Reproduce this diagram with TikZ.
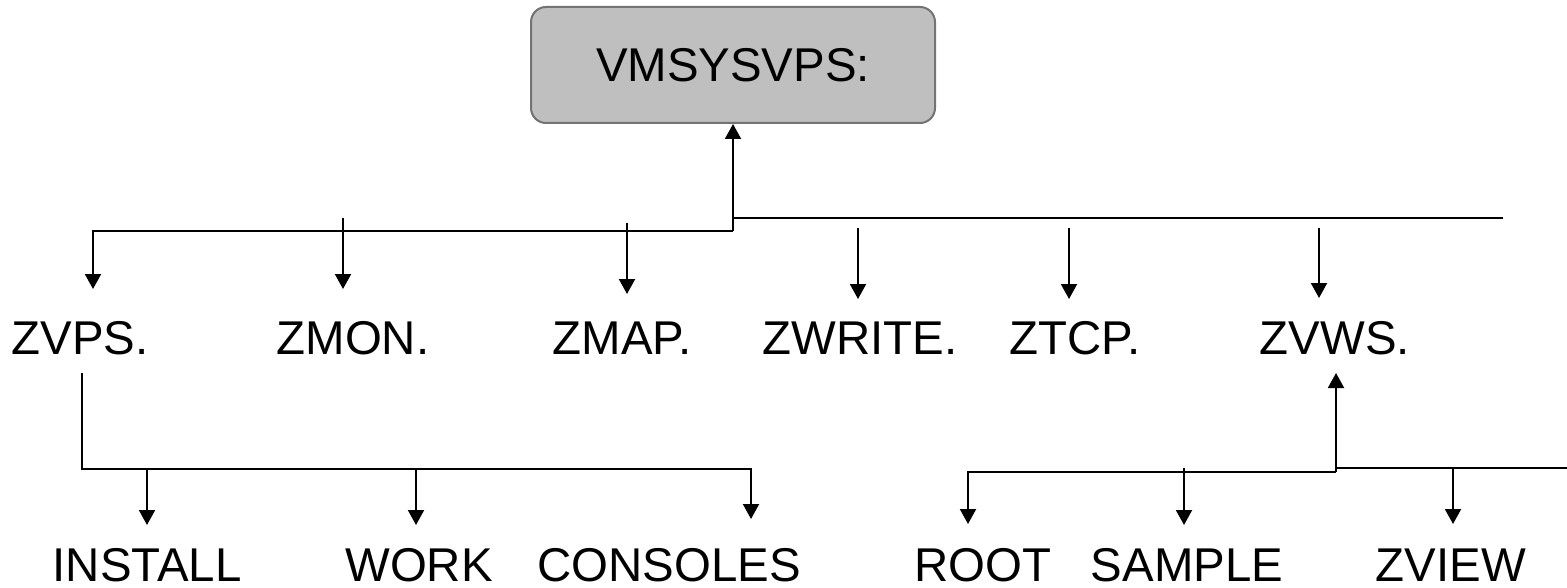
\documentclass[tikz,border=0pt]{standalone}
\usepackage{fontspec}
\setmainfont{Liberation Sans}
\usetikzlibrary{arrows.meta}
\begin{document}
\begin{tikzpicture}[x=0.5pt,y=-0.5pt,
  lbl/.style={anchor=base,inner sep=0pt,font=\fontsize{23.7}{28}\selectfont},
  conn/.style={line width=1pt,black},
  arr/.style={conn,-{Triangle[width=8pt,length=7.5pt]}},
  rootbox/.style={draw=black!55,line width=1pt,fill=black!25,rounded corners=7.5pt,
    minimum width=202pt,minimum height=58pt,inner sep=0pt,font=\fontsize{23.7}{28}\selectfont}]
\useasboundingbox (0,0) rectangle (1567,588);
% root
\node[rootbox] (box) at (733,65) {VMSYSVPS:};
% first level
\node[lbl] (zvps) at (80,354) {ZVPS.};
\node[lbl] (zmon) at (353,354) {ZMON.};
\node[lbl] (zmap) at (622,354) {ZMAP.};
\node[lbl] (zwrite) at (860,354) {ZWRITE.};
\node[lbl] (ztcp) at (1075,354) {ZTCP.};
\node[lbl] (zvws) at (1335,354) {ZVWS.};
% second level
\node[lbl] (install) at (147,581) {INSTALL};
\node[lbl] (work) at (419,581) {WORK};
\node[lbl] (consoles) at (669,581) {CONSOLES};
\node[lbl] (root) at (983,581) {ROOT};
\node[lbl] (sample) at (1187,581) {SAMPLE};
\node[lbl] (zview) at (1451,581) {ZVIEW};
% coordinates
\coordinate (j1) at (733,231);
\coordinate (t1) at (93,289);
\coordinate (r0) at (733,218);
\coordinate (r1) at (1503,218);
\coordinate (s2) at (343,218); \coordinate (t2) at (343,289);
\coordinate (s3) at (627,223); \coordinate (t3) at (627,294);
\coordinate (s4) at (858,228); \coordinate (t4) at (858,299);
\coordinate (s5) at (1069,228); \coordinate (t5) at (1069,299);
\coordinate (s6) at (1319,228); \coordinate (t6) at (1319,298);
\coordinate (z0) at (82,373);
\coordinate (z1) at (751,469);
\coordinate (tc) at (751,519);
\coordinate (si) at (147,469); \coordinate (ti) at (147,525);
\coordinate (sw) at (416,469); \coordinate (tw) at (416,525);
\coordinate (w0) at (1336,472);
\coordinate (wu) at (1336,373);
\coordinate (tr) at (968,524);
\coordinate (w1) at (1336,468);
\coordinate (w2) at (1567,468);
\coordinate (ss) at (1184,468); \coordinate (ts) at (1184,525);
\coordinate (sv) at (1453,468); \coordinate (tv) at (1453,524);
% top connectors
\draw[arr] (j1) -- (box.south);
\draw[arr] (j1) -| (t1);
\draw[conn] (r0) -- (r1);
\draw[arr] (s2) -- (t2);
\draw[arr] (s3) -- (t3);
\draw[arr] (s4) -- (t4);
\draw[arr] (s5) -- (t5);
\draw[arr] (s6) -- (t6);
% ZVPS branch
\draw[arr] (z0) |- (z1) -- (tc);
\draw[arr] (si) -- (ti);
\draw[arr] (sw) -- (tw);
% ZVWS branch
\draw[arr] (w0) -- (wu);
\draw[arr] (w0) -| (tr);
\draw[conn] (w1) -- (w2);
\draw[arr] (ss) -- (ts);
\draw[arr] (sv) -- (tv);
\end{tikzpicture}
\end{document}
